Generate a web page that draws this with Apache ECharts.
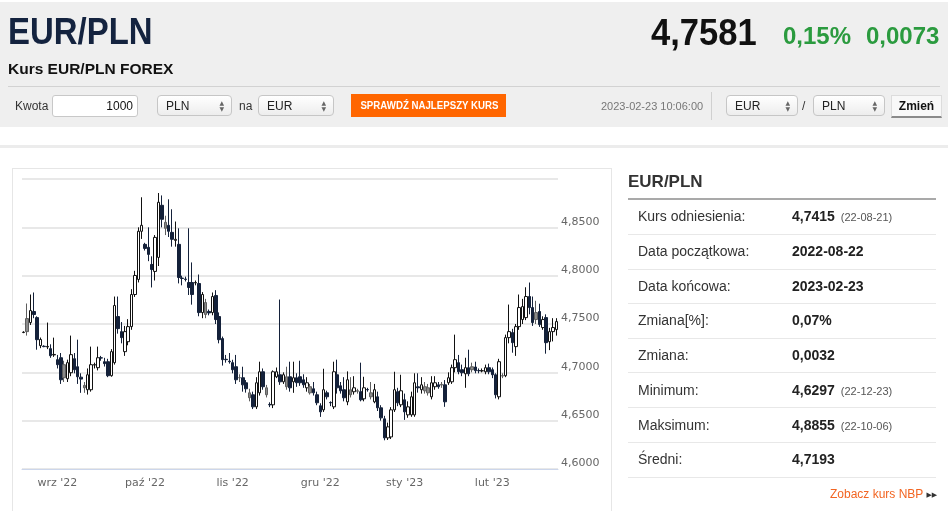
<!DOCTYPE html>
<html>
<head>
<meta charset="utf-8">
<script src="https://cdn.jsdelivr.net/npm/echarts/dist/echarts.min.js"></script>
<style>
body{margin:0;width:948px;height:511px;overflow:hidden;background:#fff;font-family:"Liberation Sans",Arial,sans-serif;position:relative}
.a{position:absolute;white-space:nowrap;z-index:2}
#chart{position:absolute;left:0;top:0;width:948px;height:511px;z-index:1}
#hdr{left:0;top:2px;width:948px;height:125px;background:#efefef;z-index:0}
.sel{height:21px;border:1px solid #c6c6c6;border-radius:4px;background:linear-gradient(#ffffff,#ededed);font-size:12px;line-height:21px;color:#222;box-sizing:border-box;padding-left:8px}
.sel .ar{position:absolute;right:7px;top:4px;font-size:6px;line-height:6px;color:#666;font-family:"DejaVu Sans"}
.lbl{left:638px;font-size:14px;color:#333;line-height:20px}
.val{left:792px;font-size:14px;font-weight:bold;color:#222;line-height:20px}
.val small{font-size:11px;font-weight:normal;color:#555;margin-left:6px}
.sep{left:628px;width:308px;height:1px;background:#e8e8e8}
</style>
</head>
<body>
<div id="hdr" class="a"></div>
<div class="a" style="left:8px;top:11px;font-size:37px;line-height:42px;font-weight:bold;color:#14233f;transform:scaleX(0.89);transform-origin:0 0;">EUR/PLN</div>
<div class="a" style="left:651px;top:12px;font-size:36px;line-height:42px;font-weight:bold;color:#111;transform:scaleX(0.96);transform-origin:0 0;">4,7581</div>
<div class="a" style="left:783px;top:22px;font-size:24px;line-height:28px;font-weight:bold;color:#2b9b3f;">0,15%</div>
<div class="a" style="left:866px;top:22px;font-size:24px;line-height:28px;font-weight:bold;color:#2b9b3f;">0,0073</div>
<div class="a" style="left:8px;top:59px;font-size:15.5px;line-height:20px;font-weight:bold;color:#111;">Kurs EUR/PLN FOREX</div>
<div class="a" style="left:8px;top:86px;width:932px;height:1px;background:#d2d2d2;"></div>

<div class="a" style="left:15px;top:98px;font-size:12px;line-height:16px;color:#333;">Kwota</div>
<div class="a" style="left:52px;top:95px;width:86px;height:22px;box-sizing:border-box;border:1px solid #c8c8c8;border-radius:3px;background:#fff;font-size:12px;line-height:20px;text-align:right;padding-right:4px;color:#111;">1000</div>
<div class="a sel" style="left:157px;top:95px;width:75px;">PLN<span class="ar">▲<br>▼</span></div>
<div class="a" style="left:239px;top:98px;font-size:12px;line-height:16px;color:#333;">na</div>
<div class="a sel" style="left:258px;top:95px;width:76px;">EUR<span class="ar">▲<br>▼</span></div>
<div class="a" style="left:351px;top:94px;width:155px;height:23px;background:#ff6600;color:#fff;font-weight:bold;font-size:11px;line-height:23px;text-align:center;"><span style="display:inline-block;transform:scaleX(0.88);">SPRAWDŹ NAJLEPSZY KURS</span></div>
<div class="a" style="left:601px;top:99px;font-size:11px;line-height:14px;color:#777;">2023-02-23 10:06:00</div>
<div class="a" style="left:711px;top:92px;width:1px;height:28px;background:#d0d0d0;"></div>
<div class="a sel" style="left:726px;top:95px;width:72px;">EUR<span class="ar">▲<br>▼</span></div>
<div class="a" style="left:802px;top:98px;font-size:12px;line-height:16px;color:#333;">/</div>
<div class="a sel" style="left:813px;top:95px;width:72px;">PLN<span class="ar">▲<br>▼</span></div>
<div class="a" style="left:891px;top:95px;width:51px;height:23px;box-sizing:border-box;background:#f8f8f8;border:1px solid #dcdcdc;border-bottom:2px solid #8a8a8a;font-size:12px;font-weight:bold;line-height:20px;text-align:center;color:#111;">Zmień</div>

<div class="a" style="left:0;top:145px;width:948px;height:3px;background:#ececec;"></div>
<div class="a" style="left:12px;top:168px;width:600px;height:360px;border:1px solid #e6e6e6;box-sizing:border-box;z-index:0;"></div>

<div class="a" style="left:628px;top:172px;font-size:17px;line-height:20px;font-weight:bold;color:#333;">EUR/PLN</div>
<div class="a" style="left:628px;top:198px;width:308px;height:2px;background:#a9a9a9;"></div>

<div class="a lbl" style="top:206px;">Kurs odniesienia:</div>
<div class="a val" style="top:206px;">4,7415<small>(22-08-21)</small></div>
<div class="a sep" style="top:234px;"></div>
<div class="a lbl" style="top:241px;">Data początkowa:</div>
<div class="a val" style="top:241px;">2022-08-22</div>
<div class="a sep" style="top:269px;"></div>
<div class="a lbl" style="top:276px;">Data końcowa:</div>
<div class="a val" style="top:276px;">2023-02-23</div>
<div class="a sep" style="top:303px;"></div>
<div class="a lbl" style="top:310px;">Zmiana[%]:</div>
<div class="a val" style="top:310px;">0,07%</div>
<div class="a sep" style="top:338px;"></div>
<div class="a lbl" style="top:345px;">Zmiana:</div>
<div class="a val" style="top:345px;">0,0032</div>
<div class="a sep" style="top:372px;"></div>
<div class="a lbl" style="top:380px;">Minimum:</div>
<div class="a val" style="top:380px;">4,6297<small>(22-12-23)</small></div>
<div class="a sep" style="top:407px;"></div>
<div class="a lbl" style="top:415px;">Maksimum:</div>
<div class="a val" style="top:415px;">4,8855<small>(22-10-06)</small></div>
<div class="a sep" style="top:442px;"></div>
<div class="a lbl" style="top:449px;">Średni:</div>
<div class="a val" style="top:449px;">4,7193</div>
<div class="a sep" style="top:477px;"></div>
<div class="a" style="left:830px;top:486px;font-size:12px;line-height:16px;color:#f26522;">Zobacz kurs NBP <span style="color:#333;font-size:7px;font-family:'DejaVu Sans';vertical-align:1px;">▶▶</span></div>

<div id="chart"></div>
<script>
const monthNames = ['sty','lut','mar','kwi','maj','cze','lip','sie','wrz','paź','lis','gru'];
const skipDays = ['2022-12-25','2023-01-01'];
function buildDates(){
  const out=[]; let t=Date.UTC(2022,7,21); const end=Date.UTC(2023,1,23);
  while(t<=end){ const d=new Date(t); const s=d.toISOString().slice(0,10);
    if(d.getUTCDay()!==6 && skipDays.indexOf(s)<0) out.push(s); t+=86400000; }
  return out;
}
const dates = buildDates();

const opens = [4.7412,4.7556,4.7515,4.7629,4.7566,4.7276,4.7270,4.7262,4.7245,4.7180,
4.7131,4.7151,4.7079,4.6934,4.6996,4.7141,4.7058,4.6950,4.6840,4.6820,
4.6820,4.7075,4.7048,4.7150,4.7110,4.7110,4.6965,4.7100,4.7577,4.7421,
4.7214,4.7317,4.7473,4.7805,4.7961,4.8459,4.8324,4.8293,4.8116,4.8044,
4.8189,4.8728,4.8490,4.8521,4.8448,4.8365,4.8324,4.7975,4.7965,4.7929,
4.7929,4.7925,4.7919,4.7618,4.7598,4.7630,4.7618,4.7795,4.7577,4.7349,
4.7135,4.7115,4.7100,4.7058,4.6945,4.6944,4.6892,4.6737,4.6768,4.6643,
4.6788,4.7006,4.6768,4.6668,4.6664,4.6954,4.6975,4.6902,4.6851,4.6954,
4.6902,4.6944,4.6954,4.6923,4.6840,4.6788,4.6830,4.6768,4.6654,4.6612,
4.6788,4.6688,4.6643,4.6975,4.6861,4.6820,4.6695,4.6768,4.6799,4.6805,
4.6799,4.6726,4.6822,4.6747,4.6695,4.6747,4.6633,4.6519,4.6322,4.6332,
4.6612,4.6799,4.6664,4.6716,4.6560,4.6560,4.6560,4.6850,4.6820,4.6809,
4.6788,4.6747,4.6851,4.6871,4.6875,4.6871,4.6892,4.6902,4.7048,4.7100,
4.7027,4.6985,4.7048,4.7058,4.7055,4.7018,4.7015,4.7006,4.7048,4.7027,
4.6975,4.6747,4.6962,4.6965,4.7359,4.7411,4.7266,4.7473,4.7546,4.7566,
4.7784,4.7670,4.7618,4.7629,4.7463,4.7566,4.7317,4.7421,4.7442];
const closes = [4.7415,4.7421,4.7639,4.7598,4.7338,4.7340,4.7266,4.7268,4.7172,4.7185,
4.7079,4.6923,4.6944,4.7100,4.7183,4.7027,4.6954,4.6930,4.6865,4.6975,
4.7079,4.7080,4.7151,4.7148,4.7090,4.6965,4.7214,4.7691,4.7452,4.7359,
4.7421,4.7473,4.7805,4.8002,4.8459,4.8521,4.8282,4.8220,4.8064,4.8396,
4.8759,4.8583,4.8552,4.8459,4.8376,4.8376,4.7981,4.7971,4.7961,4.7878,
4.7805,4.7929,4.7618,4.7805,4.7722,4.7615,4.7784,4.7546,4.7338,4.7131,
4.7131,4.7110,4.7027,4.6923,4.6944,4.6871,4.6830,4.6788,4.6643,4.6892,
4.7006,4.6851,4.6840,4.6664,4.7006,4.7006,4.6902,4.6975,4.6954,4.6840,
4.6944,4.6892,4.6892,4.6871,4.6892,4.6851,4.6788,4.6685,4.6591,4.6820,
4.6747,4.6685,4.7006,4.6840,4.6809,4.6737,4.6923,4.6820,4.6840,4.6809,
4.6716,4.6840,4.6820,4.6788,4.6820,4.6633,4.6529,4.6322,4.6436,4.6612,
4.6820,4.6685,4.6809,4.6591,4.6643,4.6747,4.6892,4.6840,4.6871,4.6851,
4.6840,4.6892,4.6892,4.6851,4.6868,4.6695,4.6944,4.7048,4.7131,4.7006,
4.6996,4.7048,4.6985,4.7027,4.7017,4.7017,4.7017,4.7048,4.7006,4.6975,
4.6768,4.7110,4.6965,4.7359,4.7421,4.7307,4.7473,4.7670,4.7680,4.7784,
4.7670,4.7515,4.7546,4.7494,4.7546,4.7307,4.7421,4.7463,4.7525];
const lows = [4.7405,4.7380,4.7490,4.7560,4.7234,4.7250,4.7260,4.7240,4.7150,4.7160,
4.7040,4.6880,4.6900,4.6900,4.6960,4.6990,4.6880,4.6788,4.6788,4.6770,
4.6800,4.7040,4.7020,4.7120,4.7060,4.6950,4.6955,4.7080,4.7400,4.7300,
4.7170,4.7280,4.7440,4.7780,4.7930,4.8380,4.8260,4.8150,4.7878,4.7950,
4.8100,4.8500,4.8420,4.8400,4.8300,4.8300,4.7920,4.7900,4.7940,4.7800,
4.7700,4.7900,4.7580,4.7560,4.7560,4.7590,4.7590,4.7500,4.7300,4.7070,
4.7100,4.7090,4.6990,4.6880,4.6900,4.6800,4.6790,4.6700,4.6620,4.6620,
4.6760,4.6820,4.6740,4.6640,4.6630,4.6940,4.6870,4.6880,4.6820,4.6800,
4.6788,4.6850,4.6860,4.6840,4.6800,4.6770,4.6760,4.6660,4.6539,4.6590,
4.6720,4.6650,4.6620,4.6780,4.6780,4.6700,4.6660,4.6740,4.6770,4.6780,
4.6700,4.6700,4.6800,4.6720,4.6680,4.6600,4.6500,4.6297,4.6300,4.6310,
4.6590,4.6650,4.6640,4.6508,4.6530,4.6540,4.6540,4.6790,4.6780,4.6780,
4.6760,4.6720,4.6820,4.6830,4.6840,4.6643,4.6870,4.6880,4.7000,4.6980,
4.6960,4.6840,4.6960,4.7000,4.6990,4.6990,4.7000,4.6980,4.6980,4.6940,
4.6730,4.6720,4.6940,4.6950,4.7300,4.7203,4.7170,4.7440,4.7500,4.7540,
4.7600,4.7480,4.7500,4.7470,4.7440,4.7193,4.7230,4.7320,4.7380];
const highs = [4.7425,4.7712,4.7805,4.7826,4.7580,4.7360,4.7280,4.7515,4.7290,4.7359,
4.7180,4.7200,4.7120,4.7131,4.7380,4.7200,4.7338,4.6990,4.6900,4.7040,
4.7266,4.7100,4.7266,4.7170,4.7150,4.7140,4.7240,4.7784,4.7784,4.7520,
4.7480,4.7550,4.7860,4.8050,4.8500,4.8811,4.8340,4.8500,4.8200,4.8420,
4.8855,4.8830,4.8620,4.8790,4.8687,4.8560,4.8490,4.8000,4.7990,4.8490,
4.8137,4.7950,4.8012,4.7830,4.7760,4.7650,4.7826,4.7850,4.7620,4.7370,
4.7180,4.7200,4.7130,4.7180,4.6980,4.7058,4.6920,4.6830,4.6800,4.6950,
4.7110,4.7040,4.6870,4.6690,4.7020,4.7050,4.7753,4.7000,4.7058,4.7110,
4.7110,4.6990,4.7120,4.6980,4.6950,4.6880,4.6900,4.6800,4.6680,4.7037,
4.6810,4.6700,4.7110,4.7131,4.6900,4.6950,4.7010,4.6950,4.6960,4.6830,
4.7100,4.6954,4.6840,4.6900,4.6880,4.6800,4.6660,4.6550,4.6480,4.6640,
4.7006,4.6840,4.6975,4.6780,4.6700,4.6800,4.6990,4.6990,4.6950,4.6900,
4.6880,4.6960,4.6960,4.6900,4.6900,4.6920,4.7000,4.7080,4.7390,4.7180,
4.7080,4.7151,4.7234,4.7100,4.7110,4.7040,4.7040,4.7080,4.7090,4.7050,
4.6990,4.7140,4.6990,4.7390,4.7701,4.7450,4.7500,4.7805,4.7760,4.7880,
4.7929,4.7784,4.7740,4.7710,4.7580,4.7600,4.7460,4.7560,4.7560];

function isMonthStart(i){ return i>0 && i<dates.length && dates[i].slice(5,7)!==dates[i-1].slice(5,7); }
function monthLabel(d){ return monthNames[parseInt(d.slice(5,7),10)-1]+" '"+d.slice(2,4); }

const items = dates.map(function(d,i){
  const o=opens[i], c=closes[i];
  const up = c>=o;
  const prev = i>0 ? closes[i-1] : o;
  const gray = i>0 && (up ? c<prev : c>prev);
  const it = {value:[o,c,lows[i],highs[i]]};
  if(gray) it.itemStyle = {color:'#8a8a8a',color0:'#8a8a8a',borderColor:'#5e5e5e',borderColor0:'#5e5e5e'};
  return it;
});

const chart = echarts.init(document.getElementById('chart'), null, {renderer:'canvas'});
chart.setOption({
  animation:false,
  backgroundColor:'transparent',
  grid:{left:22,right:390,top:179,bottom:42,containLabel:false},
  xAxis:{
    type:'category', data:dates, boundaryGap:true,
    axisLine:{lineStyle:{color:'#ccd6eb',width:1}},
    axisTick:{interval:function(i){return isMonthStart(i);}, alignWithLabel:true, length:8, lineStyle:{color:'#ccd6eb'}},
    axisLabel:{interval:function(i){return isMonthStart(i);}, formatter:function(v){return monthLabel(v);},
      color:'#666', fontSize:11, fontFamily:'DejaVu Sans', margin:9},
    splitLine:{show:false}
  },
  yAxis:{
    type:'value', position:'right', min:4.6, max:4.9, interval:0.05, scale:true,
    axisLine:{show:false}, axisTick:{show:false},
    splitLine:{lineStyle:{color:'#e8e8e8',width:2}},
    axisLabel:{formatter:function(v){return v.toFixed(4).replace('.',',');}, color:'#666', fontSize:11,
      fontFamily:'DejaVu Sans', margin:3, verticalAlign:'bottom', showMaxLabel:false}
  },
  series:[{
    type:'candlestick', data:items, barWidth:3,
    itemStyle:{color:'#ffffff',color0:'#14213a',borderColor:'#111111',borderColor0:'#14213a',borderWidth:1}
  }]
});
</script>
</body>
</html>
